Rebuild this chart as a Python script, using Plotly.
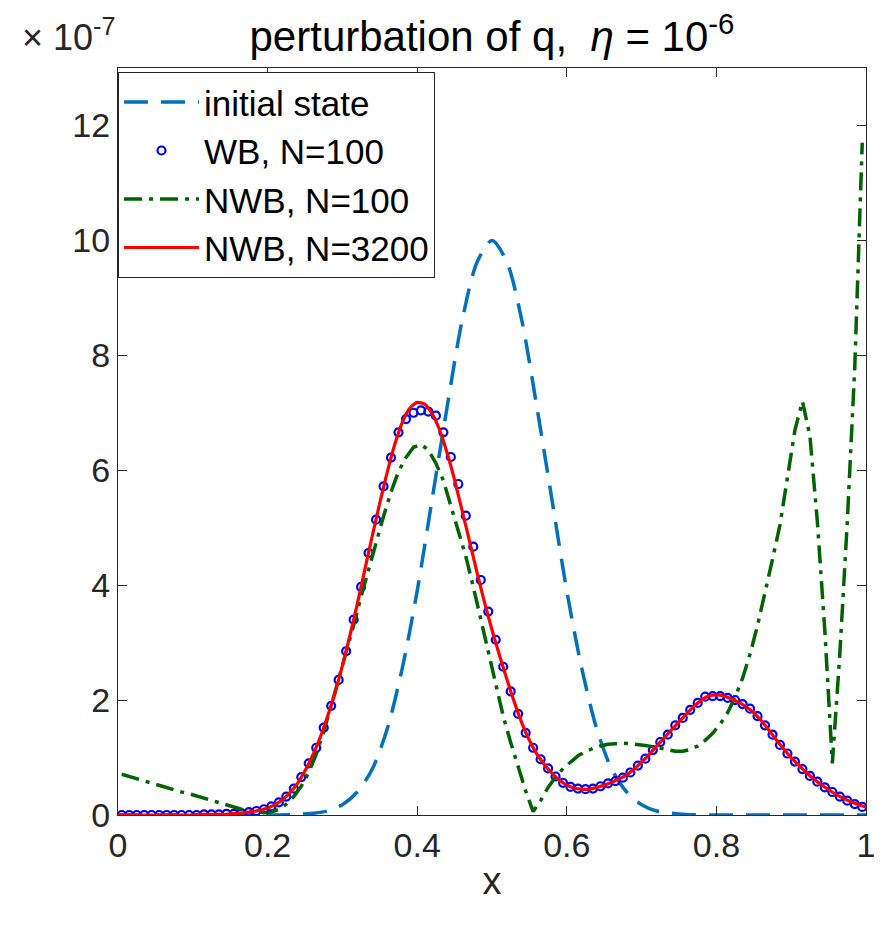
import plotly.graph_objects as go

# ---------------- data (values in units of 1e-7) ----------------
x_init = [0.00, 0.10, 0.20, 0.24, 0.26, 0.28, 0.30, 0.32, 0.34, 0.36, 0.38, 0.40, 0.42, 0.44,
          0.46, 0.48, 0.50, 0.52, 0.54, 0.56, 0.58, 0.60, 0.62, 0.64, 0.66, 0.68, 0.70,
          0.72, 0.74, 0.76, 0.80, 0.90, 1.00]
y_init = [0.00, 0.00, 0.00, 0.01, 0.03, 0.07, 0.18, 0.40, 0.80, 1.50, 2.55, 3.90, 5.50, 7.10,
          8.60, 9.62, 10.00, 9.62, 8.60, 7.10, 5.50, 3.90, 2.55, 1.50, 0.80, 0.40, 0.18,
          0.07, 0.03, 0.01, 0.00, 0.00, 0.00]

# cell centres of the N=100 grids
x_cells = [round(0.005 + 0.01 * i, 3) for i in range(100)]

y_wb = [0.00, 0.00, 0.00, 0.00, 0.00, 0.00, 0.00, 0.00, 0.00, 0.00, 0.00,
        0.01, 0.01, 0.01, 0.02, 0.02, 0.03, 0.05, 0.07, 0.10,
        0.15, 0.22, 0.32, 0.46, 0.66, 0.90, 1.17, 1.52, 1.90, 2.35,
        2.85, 3.40, 3.97, 4.56, 5.14, 5.72, 6.22, 6.66, 6.89, 7.00,
        7.04, 7.02, 6.95, 6.66, 6.23, 5.76, 5.21, 4.67, 4.09, 3.54,
        3.05, 2.58, 2.15, 1.76, 1.43, 1.17, 0.97, 0.81, 0.67, 0.56,
        0.49, 0.46, 0.45, 0.46, 0.50, 0.55, 0.59, 0.65, 0.74, 0.86,
        0.98, 1.13, 1.27, 1.40, 1.56, 1.69, 1.83, 1.95, 2.06, 2.07,
        2.07, 2.04, 2.00, 1.93, 1.85, 1.72, 1.56, 1.40, 1.22, 1.07,
        0.93, 0.80, 0.68, 0.58, 0.48, 0.40, 0.32, 0.25, 0.19, 0.14]

y_nwb100 = [0.71, 0.67, 0.64, 0.60, 0.56, 0.52, 0.48, 0.44, 0.40, 0.37,
            0.33, 0.29, 0.25, 0.21, 0.17, 0.13, 0.10, 0.07, 0.05, 0.04,
            0.05, 0.10, 0.19, 0.32, 0.50, 0.74, 1.06, 1.45, 1.90, 2.35,
            2.82, 3.30, 3.80, 4.27, 4.75, 5.20, 5.62, 5.98, 6.22, 6.40,
            6.45, 6.35, 6.12, 5.82, 5.38, 4.95, 4.50, 3.97, 3.40, 2.82,
            2.25, 1.72, 1.26, 0.82, 0.42, 0.06, 0.25, 0.48, 0.66, 0.81,
            0.93, 1.03, 1.10, 1.16, 1.20, 1.23, 1.24, 1.25, 1.24, 1.23,
            1.21, 1.19, 1.16, 1.13, 1.11, 1.11, 1.14, 1.20, 1.30, 1.42,
            1.58, 1.78, 2.05, 2.38, 2.80, 3.30, 3.85, 4.45, 5.05, 5.90,
            6.70, 7.20, 6.60, 5.10, 3.20, 0.90, 2.80, 5.10, 7.80, 11.70]

x_fine = [round(0.01 * i, 2) for i in range(101)]
y_nwb3200 = [0.00, 0.00, 0.00, 0.00, 0.00, 0.00, 0.00, 0.00, 0.00, 0.00, 0.00,
             0.01, 0.01, 0.01, 0.01, 0.02, 0.03, 0.04, 0.06, 0.08,
             0.12, 0.18, 0.27, 0.39, 0.55, 0.77, 1.03, 1.34, 1.71, 2.12,
             2.60, 3.12, 3.68, 4.27, 4.86, 5.43, 5.97, 6.45, 6.83, 7.08,
             7.18, 7.15, 6.98, 6.70, 6.30, 5.83, 5.30, 4.76, 4.22, 3.70,
             3.22, 2.78, 2.36, 1.96, 1.60, 1.30, 1.06, 0.88, 0.73, 0.61,
             0.52, 0.47, 0.45, 0.45, 0.48, 0.52, 0.57, 0.63, 0.70, 0.80,
             0.92, 1.05, 1.20, 1.34, 1.48, 1.62, 1.76, 1.89, 2.00, 2.07,
             2.09, 2.07, 2.02, 1.96, 1.88, 1.78, 1.64, 1.48, 1.31, 1.15,
             1.00, 0.87, 0.74, 0.63, 0.53, 0.44, 0.36, 0.29, 0.23, 0.18,
             0.14]

x_ticks = [0, 0.2, 0.4, 0.6, 0.8, 1]
x_ticklabels = ["0", "0.2", "0.4", "0.6", "0.8", "1"]
y_ticks = [0, 2, 4, 6, 8, 10, 12]
y_ticklabels = ["0", "2", "4", "6", "8", "10", "12"]

assert len(y_wb) == 100 and len(y_nwb100) == 100 and len(y_nwb3200) == 101

FONT = "Liberation Sans, Arial, Helvetica, sans-serif"
AX = "#262626"

fig = go.Figure()
fig.add_trace(go.Scatter(x=x_init, y=y_init, mode="lines", name="initial state",
                         line=dict(color="#0072BD", width=3.5, dash="24px,13px", shape="spline",
                                   smoothing=0.8)))
fig.add_trace(go.Scatter(x=x_cells, y=y_wb, mode="markers", name="WB, N=100",
                         marker=dict(symbol="circle-open", size=8, color="#0000FF",
                                     line=dict(width=2.2, color="#0000FF"))))
fig.add_trace(go.Scatter(x=x_cells, y=y_nwb100, mode="lines", name="NWB, N=100",
                         line=dict(color="#006400", width=3.5, dash="18px,7px,4px,7px")))
fig.add_trace(go.Scatter(x=x_fine, y=y_nwb3200, mode="lines", name="NWB, N=3200",
                         line=dict(color="#FF0000", width=3.2, shape="spline", smoothing=0.6)))

axis_common = dict(showline=True, linecolor=AX, linewidth=1, mirror="ticks",
                   ticks="inside", ticklen=9, tickcolor=AX, tickwidth=1,
                   showgrid=False, zeroline=False, automargin=False,
                   tickfont=dict(family=FONT, size=34, color=AX))

fig.update_xaxes(range=[0, 1], tickvals=x_ticks, ticktext=x_ticklabels,
                 ticklabelstandoff=0,
                 title=dict(text="x", font=dict(family=FONT, size=38, color=AX), standoff=4),
                 **axis_common)
fig.update_yaxes(range=[0, 13], tickvals=y_ticks, ticktext=y_ticklabels, **axis_common)

# the page body adds an 8 px offset, so the figure is 8 px smaller and margins shifted
fig.update_layout(
    width=874, height=920,
    margin=dict(l=110, r=16, t=60, b=113),
    paper_bgcolor="white", plot_bgcolor="white",
    font=dict(family=FONT, color=AX),
    title=dict(text="perturbation of q,  <i>η</i> = 10<sup>-6</sup>",
               xref="paper", x=0.5, xanchor="center", y=0.969, yanchor="middle",
               automargin=False,
               font=dict(family=FONT, size=42, color="black")),
    legend=dict(x=0.0, y=0.995, xanchor="left", yanchor="top",
                bgcolor="white", bordercolor=AX, borderwidth=1,
                font=dict(family=FONT, size=35, color="black"),
                itemwidth=75, tracegroupgap=0),
    showlegend=True,
)

fig.add_annotation(text="× 10<sup>-7</sup>", xref="paper", yref="paper",
                   x=-0.131, y=1.044, xanchor="left", yanchor="middle", showarrow=False,
                   font=dict(family=FONT, size=36, color=AX))

fig.write_html("out.html")
